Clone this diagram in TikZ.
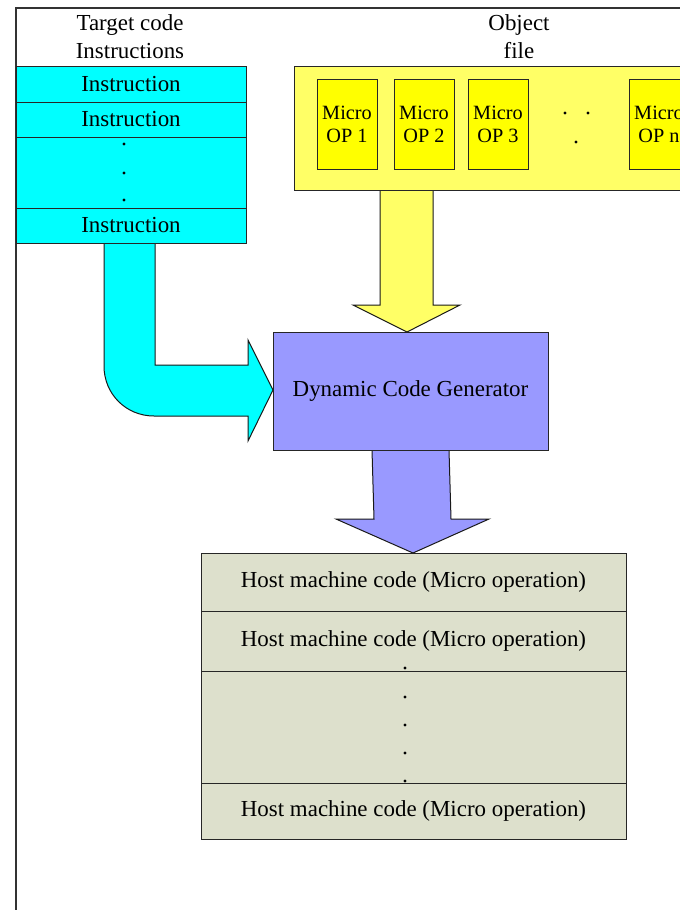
\documentclass[tikz,border=0pt]{standalone}
\usepackage{fontspec}
\setmainfont{Liberation Serif}
\usetikzlibrary{calc}
\definecolor{cyanfill}{HTML}{00FFFF}
\definecolor{objfill}{HTML}{FFFF66}
\definecolor{microfill}{HTML}{FFFF00}
\definecolor{dcgfill}{HTML}{9999FF}
\definecolor{hostfill}{HTML}{DDE0CC}
\definecolor{framecol}{HTML}{333333}
\newcommand{\pbox}[7]{\node[box,#6,anchor=north west,minimum width={(#4-#2)*0.75pt},minimum height={(#5-#3)*0.75pt}] (#1) at (#2,#3) {#7};}
\begin{document}
\begin{tikzpicture}[x=0.75pt,y=-0.75pt,
  box/.style={draw=black!85, line width=0.75pt, inner sep=0pt, outer sep=0pt},
  txt/.style={font=\fontsize{17.2}{21}\selectfont, align=center},
  mtxt/.style={font=\fontsize{15.2}{17.3}\selectfont, align=center},
  blockarrow/.style={draw=black!90, line width=0.75pt, line join=miter},
  dot/.style={fill=black}]
\clip (0,0) rectangle (680,910);
\fill[white] (0,0) rectangle (680,910);
% page frame
\draw[framecol, line width=1.1pt] (680,8) -- (16,8) -- (16,910);

% labels
\node[txt] (lblT) at (130,37) {Target code\\Instructions};
\node[txt] (lblO) at (519,37) {Object\\file};

% block arrows (drawn first)
\draw[blockarrow, fill=cyanfill] (104,243) -- (155,243) -- (155,365) -- (248,365) -- (248,340)
  -- (273,390) -- (248,441) -- (248,416) -- (154,416)
  .. controls (126,416) and (104,394) .. (104,366) -- cycle;
\draw[blockarrow, fill=objfill] (380,190) -- (433,190) -- (433,305) -- (460,305) -- (407,332)
  -- (353,305) -- (380,305) -- cycle;
\draw[blockarrow, fill=dcgfill] (372,450) -- (449,450) -- (451,519) -- (489,519) -- (413,553)
  -- (336,519) -- (374,519) -- cycle;

% target code instructions
\pbox{ins1}{16}{66}{246}{102}{fill=cyanfill,txt}{Instruction}
\pbox{ins2}{16}{102}{246}{137}{fill=cyanfill,txt}{Instruction}
\pbox{insdots}{16}{137}{246}{208}{fill=cyanfill}{}
\pbox{insn}{16}{208}{246}{243}{fill=cyanfill,txt}{Instruction}
\fill[dot] (124,144) circle[radius=1.2pt];
\fill[dot] (124,173) circle[radius=1.2pt];
\fill[dot] (124,200) circle[radius=1.2pt];

% object file
\pbox{obj}{294}{66}{700}{190}{fill=objfill}{}
\pbox{m1}{317}{79}{377}{169}{fill=microfill,mtxt}{Micro\\OP 1}
\pbox{m2}{394}{79}{454}{169}{fill=microfill,mtxt}{Micro\\OP 2}
\pbox{m3}{468}{79}{528}{169}{fill=microfill,mtxt}{Micro\\OP 3}
\pbox{mn}{629}{79}{689}{169}{fill=microfill,mtxt}{Micro\\OP n}
\fill[dot] (565,113) circle[radius=1.2pt];
\fill[dot] (588,113) circle[radius=1.2pt];
\fill[dot] (576,142) circle[radius=1.2pt];

% dynamic code generator
\pbox{dcg}{273}{332}{548}{450}{fill=dcgfill,txt}{Dynamic Code Generator}

% host machine code
\pbox{h1}{201}{553}{626}{611}{fill=hostfill,txt}{Host machine code (Micro operation)}
\pbox{h2}{201}{611}{626}{671}{fill=hostfill,txt}{Host machine code (Micro operation)}
\pbox{hdots}{201}{671}{626}{783}{fill=hostfill}{}
\pbox{hn}{201}{783}{626}{839}{fill=hostfill,txt}{Host machine code (Micro operation)}
\foreach \yy in {668,697,725,753,781} \fill[dot] (405,\yy) circle[radius=1.2pt];
\end{tikzpicture}
\end{document}
